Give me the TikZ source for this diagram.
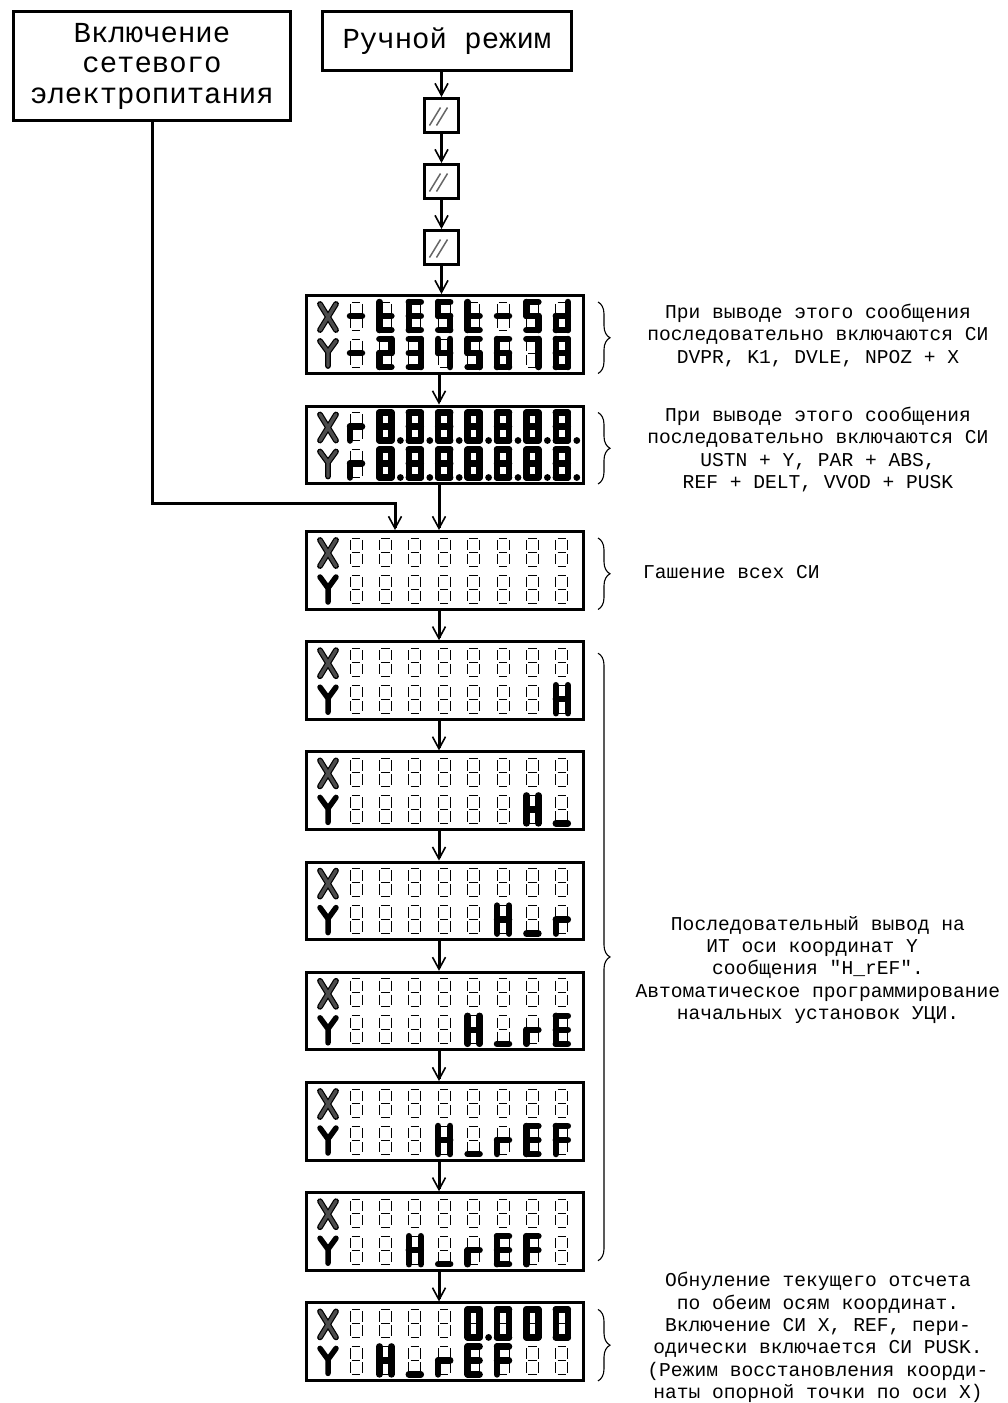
\documentclass[tikz,border=0pt]{standalone}
\usepackage{fontspec}
\newfontfamily\cadfont{Liberation Mono}
\usetikzlibrary{arrows.meta, positioning, calc, decorations.pathreplacing}

% seven-segment cell: origin at top left, 12 x 28
\newcommand\sga{\draw[segon] (0,0) -- (12,0);}
\newcommand\sgb{\draw[segon] (12,0) -- (12,14);}
\newcommand\sgc{\draw[segon] (12,14) -- (12,28);}
\newcommand\sgd{\draw[segon] (0,28) -- (12,28);}
\newcommand\sge{\draw[segon] (0,14) -- (0,28);}
\newcommand\sgf{\draw[segon] (0,0) -- (0,14);}
\newcommand\sgg{\draw[segon] (0,14) -- (12,14);}
\newcommand\sgp{\fill (21,28) circle[radius=3.4];}
\newcommand\defglyph[2]{\expandafter\def\csname gl@#1\endcsname{#2}}
\defglyph{n}{}
\defglyph{m}{\sgg}
\defglyph{u}{\sgd}
\defglyph{r}{\sge\sgg}
\defglyph{t}{\sgd\sge\sgf\sgg}
\defglyph{d}{\sgb\sgc\sgd\sge\sgg}
\defglyph{E}{\sga\sgd\sge\sgf\sgg}
\defglyph{F}{\sga\sge\sgf\sgg}
\defglyph{S}{\sga\sgc\sgd\sgf\sgg}
\defglyph{H}{\sgb\sgc\sge\sgf\sgg}
\defglyph{0}{\sga\sgb\sgc\sgd\sge\sgf}
\defglyph{0p}{\sga\sgb\sgc\sgd\sge\sgf\sgp}
\defglyph{2}{\sga\sgb\sgd\sge\sgg}
\defglyph{3}{\sga\sgb\sgc\sgd\sgg}
\defglyph{4}{\sgb\sgc\sgf\sgg}
\defglyph{5}{\sga\sgc\sgd\sgf\sgg}
\defglyph{6}{\sga\sgc\sgd\sge\sgf\sgg}
\defglyph{7}{\sga\sgb\sgc}
\defglyph{8}{\sga\sgb\sgc\sgd\sge\sgf\sgg}
\defglyph{8p}{\sga\sgb\sgc\sgd\sge\sgf\sgg\sgp}

\newcommand\lcdglyph[3]{%
  \begin{scope}[shift={(#1,#2)}]
    \foreach \p/\q in {{0,0}/{12,0},{12,0}/{12,14},{12,14}/{12,28},{0,28}/{12,28},{0,14}/{0,28},{0,0}/{0,14},{0,14}/{12,14}}
      \draw[segoff] (\p) -- (\q);
    \csname gl@#3\endcsname
  \end{scope}}

% #2 name, #3 placement, #4 X row, #5 Y row
\newcommand\lcdpanel[5][ybold]{%
  \node[lcdbox, #3] (#2) {};
  \begin{scope}[shift={(#2.north west)}]
    \draw[xletter] (15,10) -- (31,36) (31,10) -- (15,36);
    \draw[#1] (15,47) -- (23,58) -- (31,47) (23,58) -- (23,72);
    \foreach \c [count=\i] in {#4} {\lcdglyph{45+29.4*\i-29.4}{8}{\c}}
    \foreach \c [count=\i] in {#5} {\lcdglyph{45+29.4*\i-29.4}{45}{\c}}
  \end{scope}}

\begin{document}
\begin{tikzpicture}[
    x=1pt, y=-1pt,
    >={Straight Barb[length=12pt,width=13pt,line width=1.6pt]},
    topbox/.style={draw, line width=3pt, align=center, inner sep=0pt, font=\cadfont\fontsize{29}{30.5}\selectfont},
    keybox/.style={draw, line width=3pt, minimum size=34pt, inner sep=0pt},
    lcdbox/.style={draw, line width=3pt, minimum width=277pt, minimum height=77.5pt, inner sep=0pt},
    segoff/.style={line width=0.9pt, shorten <=1.8pt, shorten >=1.8pt},
    segon/.style={line width=6.5pt, line cap=round, line join=round},
    xletter/.style={line width=1.2pt, double=black!70, double distance=3.4pt, line cap=round, line join=round},
    ygray/.style={xletter},
    ybold/.style={line width=5.5pt, line cap=round, line join=round},
    note/.style={align=center, inner sep=0pt, font=\cadfont\fontsize{19.6}{22.3}\selectfont},
    brace/.style={decorate, decoration={brace, amplitude=12pt}, line width=1.1pt},
    arrow/.style={->, line width=3pt}
  ]
    \useasboundingbox (0,0) rectangle (1008,1403);
    \node[topbox, minimum width=277pt, minimum height=109pt] (power) at (152,66) {Включение\\сетевого\\электропитания};
    \node[topbox, minimum width=249pt, minimum height=59pt] (manual) at (447,41) {Ручной режим};
    \node[keybox] (k1) at (441.5,115.5) {};
    \node[keybox, below=29pt of k1] (k2) {};
    \node[keybox, below=29pt of k2] (k3) {};
    \foreach \k in {k1,k2,k3}
      \draw[black!60, line width=1.5pt] ($(\k)+(-12,10)$) -- ($(\k)+(-1,-8)$)
        ($(\k)+(-5,10)$) -- ($(\k)+(6,-8)$);
    \coordinate (spine) at (439,0);
    \coordinate (join) at (395,503);

    \lcdpanel[ygray]{d1}{below=28pt of k3, xshift=3.5pt}{m,t,E,S,t,m,S,d}{m,2,3,4,5,6,7,8}
    \lcdpanel[ygray]{d2}{below=30pt of d1}{r,8p,8p,8p,8p,8p,8p,8p}{r,8p,8p,8p,8p,8p,8p,8p}
    \lcdpanel{d3}{below=45pt of d2}{n,n,n,n,n,n,n,n}{n,n,n,n,n,n,n,n}
    \lcdpanel{d4}{below=29.7pt of d3}{n,n,n,n,n,n,n,n}{n,n,n,n,n,n,n,H}
    \lcdpanel{d5}{below=29.7pt of d4}{n,n,n,n,n,n,n,n}{n,n,n,n,n,n,H,u}
    \lcdpanel{d6}{below=29.7pt of d5}{n,n,n,n,n,n,n,n}{n,n,n,n,n,H,u,r}
    \lcdpanel{d7}{below=29.7pt of d6}{n,n,n,n,n,n,n,n}{n,n,n,n,H,u,r,E}
    \lcdpanel{d8}{below=29.7pt of d7}{n,n,n,n,n,n,n,n}{n,n,n,H,u,r,E,F}
    \lcdpanel{d9}{below=29.7pt of d8}{n,n,n,n,n,n,n,n}{n,n,H,u,r,E,F,n}
    \lcdpanel{d10}{below=29.7pt of d9}{n,n,n,n,0p,0,0,0}{n,H,u,r,E,F,n,n}

    \draw[arrow] (manual.south -| k1) -- (k1);
    \draw[arrow] (k1) -- (k2);
    \draw[arrow] (k2) -- (k3);
    \draw[arrow] (k3) -- (k3 |- d1.north);
    \draw[arrow] (d1.south -| spine) -- (d2.north -| spine);
    \draw[arrow] (d2.south -| spine) -- (d3.north -| spine);
    \draw[arrow] (power.south) |- (join) -- (join |- d3.north);
    \foreach \a/\b in {d3/d4,d4/d5,d5/d6,d6/d7,d7/d8,d8/d9,d9/d10}
      \draw[arrow] (\a.south -| spine) -- (\b.north -| spine);

    \draw[brace] ($(d1.north east)+(13,8)$) -- ($(d1.south east)+(13,-1)$);
    \draw[brace] ($(d2.north east)+(13,8)$) -- ($(d2.south east)+(13,-1)$);
    \draw[brace] ($(d3.north east)+(13,8)$) -- ($(d3.south east)+(13,-1)$);
    \draw[brace] ($(d4.north east)+(13,13)$) -- ($(d9.south east)+(13,-11)$);
    \draw[brace] ($(d10.north east)+(13,8)$) -- ($(d10.south east)+(13,-1)$);

    \node[note] (n1) at (818,335.5) {При выводе этого сообщения\\последовательно включаются СИ\\DVPR, K1, DVLE, NPOZ + X};
    \node[note] (n2) at (818,449.5) {При выводе этого сообщения\\последовательно включаются СИ\\USTN + Y, PAR + ABS,\\REF + DELT, VVOD + PUSK};
    \node[note, anchor=west] (n3) at (643,572) {Гашение всех СИ};
    \node[note] (n4) at (818,970) {Последовательный вывод на\\ИТ оси координат Y\hphantom{0}\\сообщения "H\_rEF".\\Автоматическое программирование\\начальных установок УЦИ.};
    \node[note] (n5) at (818,1337.5) {Обнуление текущего отсчета\\по обеим осям координат.\\Включение СИ X, REF, пери-\\одически включается СИ PUSK.\\(Режим восстановления коорди-\\наты опорной точки по оси X)};
  \end{tikzpicture}
\end{document}
